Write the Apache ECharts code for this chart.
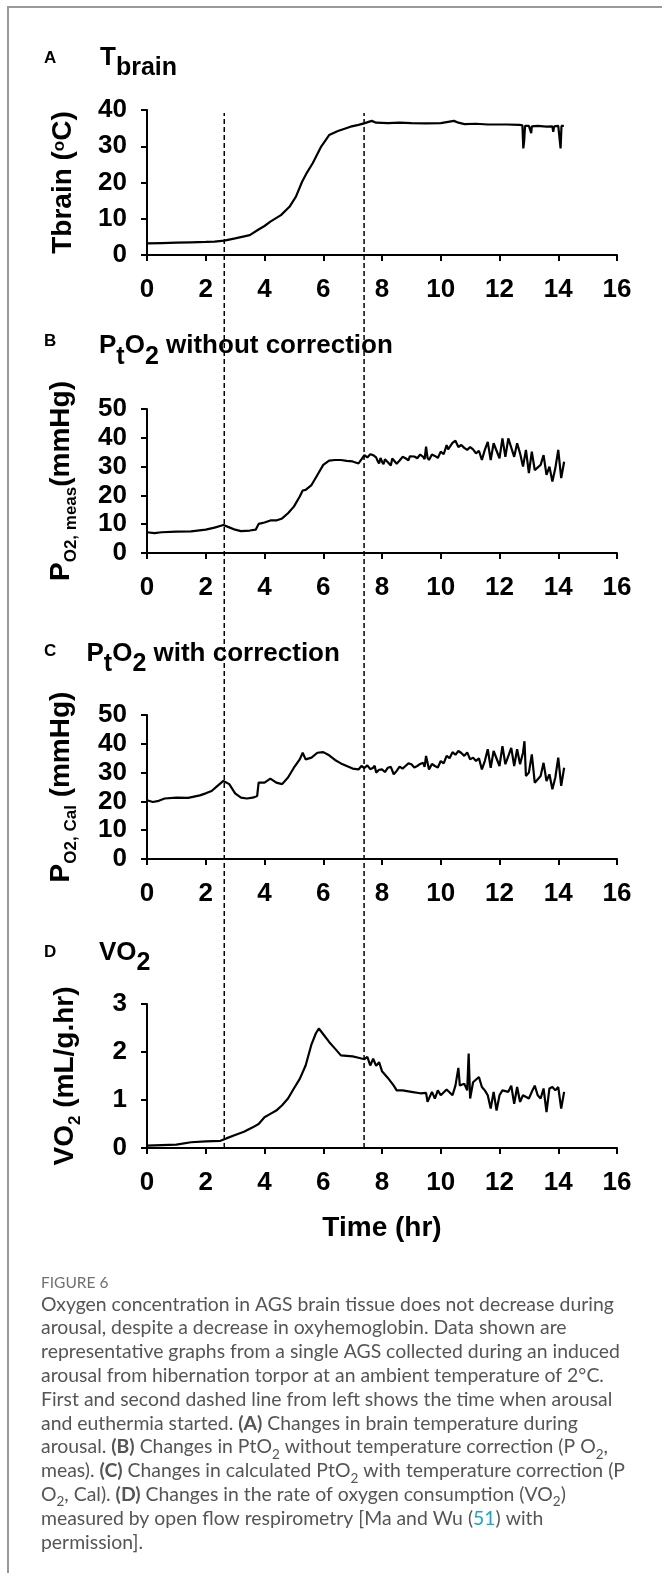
<!DOCTYPE html>
<html>
<head>
<meta charset="utf-8">
<script src="https://cdn.jsdelivr.net/npm/echarts@6.0.0/dist/echarts.min.js"></script>
<style>
html,body{margin:0;padding:0;background:#fff;}
#chart{width:662px;height:1573px;}
</style>
</head>
<body>
<div id="chart"></div>
<script>
// ---------- DATA ----------
const xTicks = [0, 2, 4, 6, 8, 10, 12, 14, 16];
const dashedLineTimes = [2.63, 7.39]; // arousal start, euthermia start (hr)

// A: brain temperature (°C)
const timeA = [0,0.5,1,1.5,2,2.3,2.63,3.0,3.5,3.77,4.0,4.2,4.56,4.85,5.07,5.28,5.45,5.64,5.93,6.2,6.5,6.93,7.2,7.39,7.65,7.8,8.2,8.6,9.0,9.5,10.0,10.45,10.6,10.81,11.2,11.6,12.0,12.25,12.68,12.78,12.81,12.84,12.87,12.9,13.0,13.06,13.08,13.1,13.3,13.6,13.8,13.83,13.86,14.0,14.05,14.08,14.11,14.19];
const tBrain = [3.2,3.3,3.4,3.5,3.6,3.7,3.95,4.6,5.5,6.9,8.0,9.2,11,13.3,16.1,20.2,22.8,25.3,29.9,33.1,34.2,35.4,35.9,36.3,37.0,36.5,36.4,36.5,36.4,36.3,36.4,37.0,36.5,36.1,36.2,36.0,36.0,36.0,35.9,35.8,29.4,31.5,35.6,35.7,35.6,35.5,33.6,35.5,35.6,35.4,35.5,34.0,35.5,35.6,35.5,29.4,35.6,35.6];

// B: PtO2 without correction (mmHg), [time hr, value]
const pO2Meas = [[0,7.2],[0.25,6.9],[0.5,7.2],[1,7.4],[1.5,7.5],[2,8.1],[2.3,8.8],[2.6,9.7],[2.8,8.9],[3.0,8.1],[3.2,7.6],[3.5,7.8],[3.7,8.1],[3.8,10.1],[4.0,10.6],[4.2,11.3],[4.4,11.3],[4.6,12.0],[4.8,13.8],[5.0,16.1],[5.2,19.6],[5.3,21.7],[5.4,21.9],[5.6,23.6],[5.8,27.1],[6.0,30.6],[6.2,32.1],[6.4,32.3],[6.6,32.3],[6.8,32.0],[7.0,31.8],[7.2,31.1],[7.3,32.5],[7.4,34.0],[7.5,33.2],[7.6,34.3],[7.7,34.0],[7.8,33.2],[7.85,32.0],[7.9,31.1],[7.95,33.0],[8.0,31.7],[8.05,30.8],[8.1,32.5],[8.2,31.5],[8.3,30.4],[8.35,32.8],[8.4,32.3],[8.5,31.0],[8.6,32.1],[8.7,33.4],[8.8,32.9],[8.9,32.2],[8.95,33.6],[9.0,34.0],[9.1,33.5],[9.2,32.9],[9.3,34.2],[9.4,33.4],[9.45,32.6],[9.5,36.9],[9.55,33.0],[9.6,32.3],[9.7,34.2],[9.8,33.7],[9.9,33.0],[10.0,35.2],[10.1,34.3],[10.2,37.5],[10.25,36.0],[10.3,35.8],[10.4,38.2],[10.5,39.0],[10.6,36.8],[10.7,37.5],[10.8,36.5],[10.9,35.8],[11.0,36.8],[11.1,36.0],[11.2,34.6],[11.3,35.5],[11.4,32.3],[11.5,35.8],[11.6,38.6],[11.7,32.3],[11.8,38.1],[12.0,32.9],[12.1,39.8],[12.2,33.4],[12.3,39.8],[12.5,33.4],[12.6,38.1],[12.7,34.6],[12.8,30.0],[12.9,35.8],[13.0,27.7],[13.1,35.2],[13.2,28.8],[13.4,30.6],[13.5,34.0],[13.6,27.1],[13.7,30.0],[13.8,24.8],[13.9,29.4],[14.0,35.8],[14.1,26.0],[14.2,31.7]];

// C: PtO2 with correction (mmHg), [time hr, value]
const pO2Cal = [[0,20.4],[0.2,19.8],[0.4,20.2],[0.6,21.0],[1.0,21.3],[1.4,21.2],[1.8,22.1],[2.0,22.8],[2.2,23.6],[2.4,25.4],[2.6,27.1],[2.8,26.0],[3.0,22.8],[3.2,21.3],[3.4,21.0],[3.6,21.3],[3.75,21.9],[3.8,26.5],[4.0,26.5],[4.2,27.9],[4.4,26.5],[4.6,26.0],[4.8,28.3],[5.0,31.7],[5.2,34.6],[5.3,36.9],[5.4,34.6],[5.6,35.2],[5.8,36.9],[6.0,37.1],[6.2,36.0],[6.4,34.4],[6.6,33.2],[6.8,32.3],[7.0,31.4],[7.2,31.1],[7.3,32.3],[7.4,31.6],[7.5,32.5],[7.6,31.2],[7.7,31.7],[7.75,32.4],[7.8,30.0],[7.9,31.0],[8.0,31.1],[8.1,30.2],[8.2,31.7],[8.3,32.0],[8.4,29.4],[8.5,30.6],[8.6,32.1],[8.7,31.4],[8.8,32.3],[8.9,33.2],[9.0,32.9],[9.1,31.8],[9.2,32.3],[9.3,33.0],[9.4,33.4],[9.45,32.0],[9.5,35.8],[9.6,31.1],[9.7,33.0],[9.8,32.3],[9.9,31.8],[10.0,34.0],[10.1,33.2],[10.2,35.8],[10.3,35.0],[10.4,37.1],[10.5,36.2],[10.6,37.5],[10.7,36.8],[10.8,35.8],[10.9,37.0],[11.0,34.6],[11.1,35.2],[11.2,34.0],[11.3,35.0],[11.4,31.1],[11.5,34.0],[11.6,38.1],[11.7,31.7],[11.8,37.5],[12.0,32.3],[12.1,39.2],[12.2,32.9],[12.4,38.6],[12.5,32.3],[12.6,38.1],[12.7,32.9],[12.8,36.9],[12.85,40.9],[12.9,28.8],[13.0,30.0],[13.1,36.3],[13.2,26.5],[13.4,28.8],[13.5,33.4],[13.6,27.1],[13.7,29.4],[13.8,24.2],[13.9,28.3],[14.0,35.2],[14.1,25.4],[14.2,31.7]];

// D: VO2 (mL/g.hr)
const timeD = [0,0.5,1.0,1.5,2.0,2.5,2.7,3.0,3.3,3.6,3.8,4.0,4.2,4.4,4.6,4.8,5.0,5.2,5.4,5.6,5.75,5.85,6.0,6.2,6.4,6.6,6.8,7.0,7.2,7.4,7.5,7.6,7.7,7.8,7.9,8.0,8.2,8.4,8.5,8.7,9.0,9.3,9.5,9.55,9.7,9.8,9.9,10.0,10.2,10.4,10.5,10.6,10.65,10.8,10.9,10.95,11.0,11.1,11.3,11.4,11.5,11.6,11.7,11.8,11.9,12.0,12.1,12.3,12.4,12.5,12.6,12.7,12.8,13.0,13.1,13.2,13.3,13.4,13.5,13.6,13.7,13.8,13.9,14.0,14.1,14.2];
const vO2 = [0.05,0.06,0.07,0.12,0.14,0.15,0.2,0.27,0.34,0.43,0.5,0.64,0.71,0.78,0.89,1.03,1.24,1.44,1.72,2.16,2.39,2.49,2.37,2.21,2.07,1.93,1.92,1.91,1.88,1.85,1.9,1.72,1.86,1.71,1.79,1.6,1.46,1.3,1.2,1.2,1.17,1.14,1.15,0.96,1.17,1.03,1.2,1.1,1.22,1.1,1.3,1.67,1.3,1.34,1.2,1.97,1.03,1.37,1.48,1.27,1.2,1.1,0.82,1.17,0.78,1.1,1.2,1.17,1.3,0.92,1.27,0.96,1.1,1.03,1.17,1.3,1.1,1.03,1.24,0.75,1.24,1.27,1.2,1.27,0.82,1.17];

const yRangeA = [0, 40, 10];
const yRangeB = [0, 50, 10];
const yRangeC = [0, 50, 10];
const yRangeD = [0, 3, 1];

// ---------- STYLE ----------
const FONT = '"Liberation Sans", Arial, Helvetica, sans-serif';
const CAP_FONT = 'Lato, "Open Sans", sans-serif';
const zip = (t, v) => t.map((x, i) => [x, v[i]]);

const gridLeft = 147, gridW = 470;
const grids = [
  {left: gridLeft, top: 110, width: gridW, height: 145},
  {left: gridLeft, top: 409, width: gridW, height: 144},
  {left: gridLeft, top: 715, width: gridW, height: 144},
  {left: gridLeft, top: 1004, width: gridW, height: 144},
  {left: gridLeft, top: 113, width: gridW, height: 1035}
];

const axisLine = {show: true, onZero: false, lineStyle: {color: '#000', width: 2}};
const axisTick = {show: true, inside: false, length: 6, lineStyle: {color: '#000', width: 2}};
const tickLabel = (margin) => ({show: true, color: '#000', fontSize: 26, fontWeight: 'bold', fontFamily: FONT, margin: margin, lineHeight: 26});

function makeX(i, extra) {
  return Object.assign({
    type: 'value', gridIndex: i, min: xTicks[0], max: xTicks[xTicks.length - 1],
    interval: xTicks[1] - xTicks[0],
    axisLine, axisTick, axisLabel: tickLabel(22), splitLine: {show: false}
  }, extra || {});
}
const nameRich = {
  m: {fontSize: 28, fontWeight: 'bold', fontFamily: FONT, color: '#000', lineHeight: 34, verticalAlign: 'top'},
  sub: {fontSize: 17, fontWeight: 'bold', fontFamily: FONT, color: '#000', lineHeight: 17, verticalAlign: 'top', padding: [16, 0, 0, 0]},
  sup: {fontSize: 17, fontWeight: 'bold', fontFamily: FONT, color: '#000', lineHeight: 17, verticalAlign: 'top', padding: [2, 0, 0, 0]}
};
function makeY(i, r, name, gap) {
  return {
    type: 'value', gridIndex: i, min: r[0], max: r[1], interval: r[2],
    axisLine, axisTick, axisLabel: tickLabel(20), splitLine: {show: false},
    name: name, nameLocation: 'middle', nameGap: gap, nameRotate: 90,
    nameTextStyle: {rich: nameRich}
  };
}

const lineSeries = (i, data) => ({
  type: 'line', xAxisIndex: i, yAxisIndex: i, data: data,
  symbol: 'none', showSymbol: false, smooth: false, animation: false,
  lineStyle: {color: '#000', width: 2.2}
});

const dashSeries = dashedLineTimes.map(t => ({
  type: 'line', xAxisIndex: 4, yAxisIndex: 4, data: [[t, 0], [t, 1]],
  symbol: 'none', showSymbol: false, animation: false, silent: true, z: 5,
  lineStyle: {color: '#000', width: 1.5, type: [5, 3]}
}));

const titleRich = {
  m: {fontSize: 26, fontWeight: 'bold', fontFamily: FONT, fill: '#000', lineHeight: 34, verticalAlign: 'top'},
  s: {fontSize: 25, fontWeight: 'bold', fontFamily: FONT, fill: '#000', lineHeight: 25, verticalAlign: 'top', padding: [11.5, 0, 0, 0]}
};
const letterStyle = (t) => ({text: t, fontSize: 17, fontWeight: 'bold', fontFamily: FONT, fill: '#000', verticalAlign: 'middle'});

const capBase = {fontSize: 19.4, fontFamily: CAP_FONT, fill: '#555', lineHeight: 23.8, verticalAlign: 'top'};
const capRich = {
  n: Object.assign({}, capBase),
  b: Object.assign({}, capBase, {fontWeight: 'bold'}),
  l: Object.assign({}, capBase, {fill: '#1aa6c6'}),
  s: {fontSize: 13.5, fontFamily: CAP_FONT, fill: '#555', lineHeight: 13.5, verticalAlign: 'top', padding: [9.8, 0, 0, 0]}
};
const captionLines = [
  '{n|Oxygen concentration in AGS brain tissue does not decrease during}',
  '{n|arousal, despite a decrease in oxyhemoglobin. Data shown are}',
  '{n|representative graphs from a single AGS collected during an induced}',
  '{n|arousal from hibernation torpor at an ambient temperature of 2°C.}',
  '{n|First and second dashed line from left shows the time when arousal}',
  '{n|and euthermia started. }{b|(A)}{n| Changes in brain temperature during}',
  '{n|arousal. }{b|(B)}{n| Changes in PtO}{s|2}{n| without temperature correction (P O}{s|2}{n|,}',
  '{n|meas). }{b|(C)}{n| Changes in calculated PtO}{s|2}{n| with temperature correction (P}',
  '{n|O}{s|2}{n|, Cal). }{b|(D)}{n| Changes in the rate of oxygen consumption (VO}{s|2}{n|)}',
  '{n|measured by open flow respirometry [Ma and Wu (}{l|51}{n|) with}',
  '{n|permission].}'
];

const option = {
  backgroundColor: '#fff',
  animation: false,
  grid: grids,
  xAxis: [
    makeX(0), makeX(1), makeX(2),
    makeX(3, {name: 'Time (hr)', nameLocation: 'middle', nameGap: 66,
      nameTextStyle: {fontSize: 28, fontWeight: 'bold', fontFamily: FONT, color: '#000', lineHeight: 28}}),
    {type: 'value', gridIndex: 4, min: 0, max: 16, show: false}
  ],
  yAxis: [
    makeY(0, yRangeA, '{m|Tbrain (}{sup|o}{m|C)}', 64),
    makeY(1, yRangeB, '{m|P}{sub|O2, meas}{m|(mmHg)}', 66),
    makeY(2, yRangeC, '{m|P}{sub|O2, Cal}{m| (mmHg)}', 66),
    makeY(3, yRangeD, '{m|VO}{sub|2}{m| (mL/g.hr)}', 62),
    {type: 'value', gridIndex: 4, min: 0, max: 1, show: false}
  ],
  series: [
    lineSeries(0, zip(timeA, tBrain)),
    lineSeries(1, pO2Meas),
    lineSeries(2, pO2Cal),
    lineSeries(3, zip(timeD, vO2))
  ].concat(dashSeries),
  graphic: [
    {type: 'polyline', shape: {points: [[8, 1573], [8, 7], [662, 7]]}, style: {stroke: '#999', lineWidth: 2, fill: null}, silent: true},
    {type: 'text', x: 44, y: 58.5, style: letterStyle('A')},
    {type: 'text', x: 44, y: 341.5, style: letterStyle('B')},
    {type: 'text', x: 44, y: 651, style: letterStyle('C')},
    {type: 'text', x: 44, y: 952.5, style: letterStyle('D')},
    {type: 'text', x: 100, y: 44.4, style: {text: '{m|T}{s|brain}', rich: titleRich}},
    {type: 'text', x: 99, y: 332.7, style: {text: '{m|P}{s|t}{m|O}{s|2}{m| without correction}', rich: titleRich}},
    {type: 'text', x: 86.5, y: 640.4, style: {text: '{m|P}{s|t}{m|O}{s|2}{m| with correction}', rich: titleRich}},
    {type: 'text', x: 99, y: 939.4, style: {text: '{m|VO}{s|2}', rich: titleRich}},
    {type: 'text', x: 41, y: 1283, style: {text: 'FIGURE 6', fontSize: 15.5, fontFamily: CAP_FONT, fill: '#707070', verticalAlign: 'middle'}},
    {type: 'text', x: 41, y: 1294.8, style: {text: captionLines.join('\n'), rich: capRich, lineHeight: 23.8}}
  ]
};

const chart = echarts.init(document.getElementById('chart'), null, {renderer: 'canvas'});
chart.setOption(option);
</script>
</body>
</html>
